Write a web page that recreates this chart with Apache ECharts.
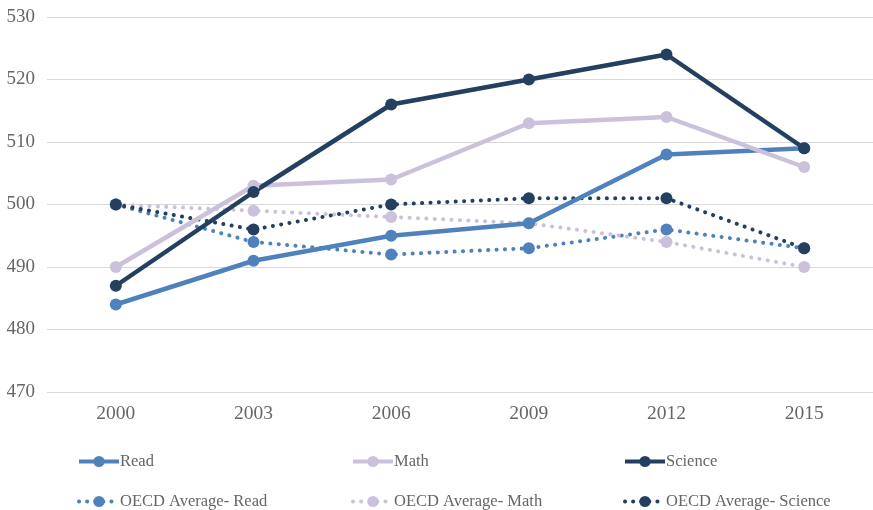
<!DOCTYPE html>
<html><head><meta charset="utf-8">
<script src="https://cdn.jsdelivr.net/npm/echarts@6/dist/echarts.min.js"></script>
<style>html,body{margin:0;padding:0;background:#fff}#c{width:873px;height:510px}</style>
</head><body><div id="c"></div>
<script>
const years = ['2000','2003','2006','2009','2012','2015'];
const read = [484, 491, 495, 497, 508, 509];
const math = [490, 503, 504, 513, 514, 506];
const science = [487, 502, 516, 520, 524, 509];
const oecdRead = [500, 494, 492, 493, 496, 493];
const oecdMath = [500, 499, 498, 497, 494, 490];
const oecdScience = [500, 496, 500, 501, 501, 493];

const C_READ = '#4f81bd', C_MATH = '#ccc1da', C_SCI = '#243f60';
const font = '"Liberation Serif","Times New Roman",serif';
function solid(name, data, color){
  return {name, type:'line', data, symbol:'circle', symbolSize:12,
    lineStyle:{width:4.5, color}, itemStyle:{color}, z:3};
}
function dotted(name, data, color){
  return {name, type:'line', data, symbol:'circle', symbolSize:12,
    lineStyle:{width:4, color, type:[0.1,8.3], cap:'round'}, itemStyle:{color}, z:2};
}
const names = ['Read','Math','Science','OECD Average- Read','OECD Average- Math','OECD Average- Science'];
const lefts = [77, 351, 623];
const legends = names.map((n,i)=>({
  data:[n], left: lefts[i%3], top: i<3 ? 453 : 493, padding:0, itemWidth:40, itemHeight:14, itemGap:2,
  lineStyle: i<3 ? {width:4} : {width:4, type:[0.1,8], cap:'round'},
  textStyle:{fontFamily:font, fontSize:16.5, color:'#666666', padding:[0,0,0,-4]}
}));
const chart = echarts.init(document.getElementById('c'));
chart.setOption({
  animation:false,
  grid:{left:47, top:17, width:830, height:375},
  legend: legends,
  xAxis:{type:'category', data:years, boundaryGap:true,
    axisLine:{show:false}, axisTick:{show:false},
    axisLabel:{fontFamily:font, fontSize:19.5, color:'#666666', margin:12}},
  yAxis:{type:'value', min:470, max:530, interval:10,
    axisLine:{show:false}, axisTick:{show:false},
    axisLabel:{fontFamily:font, fontSize:19, color:'#666666', margin:12},
    splitLine:{lineStyle:{color:'#d9d9d9', width:1}}},
  series:[
    dotted(names[3], oecdRead, C_READ),
    dotted(names[4], oecdMath, C_MATH),
    dotted(names[5], oecdScience, C_SCI),
    solid(names[0], read, C_READ),
    solid(names[1], math, C_MATH),
    solid(names[2], science, C_SCI)
  ]
});
</script></body></html>
